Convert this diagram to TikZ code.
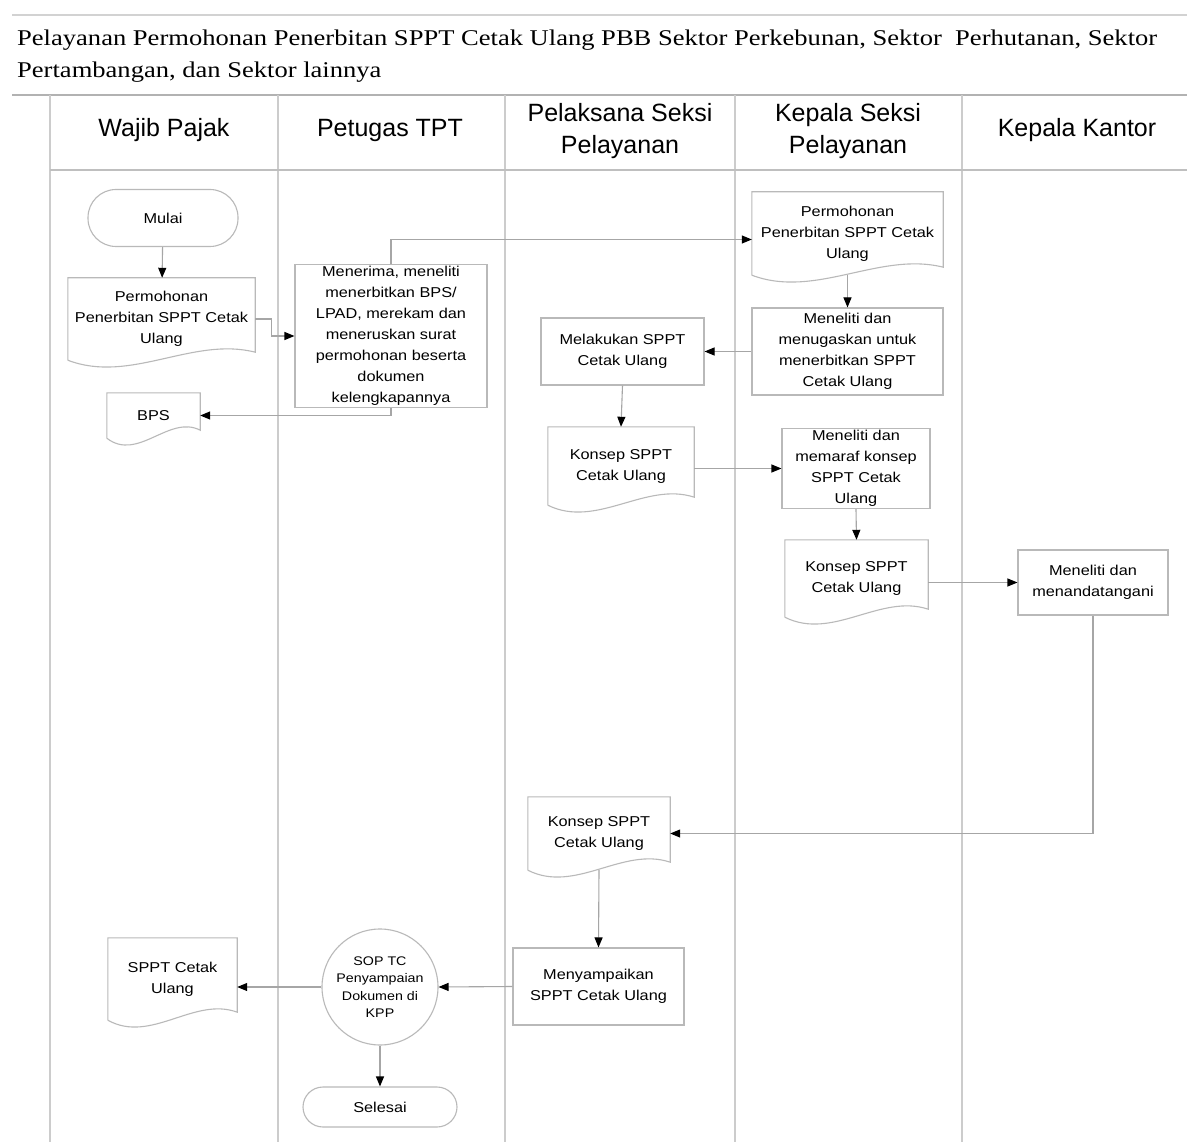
\documentclass[tikz,border=0pt]{standalone}
\usepackage{fontspec}
\setmainfont{Liberation Sans}
\newfontfamily\ttlfont[FakeStretch=1.18]{Liberation Serif}
\newfontfamily\bxfamily[FakeStretch=1.14]{Liberation Sans}
\usetikzlibrary{arrows.meta,calc}
\newcommand\bxfont{\bxfamily\fontsize{14.3}{21}\selectfont}
\newcommand\hdfont{\fontsize{25}{32}\selectfont}
\newcommand\docoutline[1]{%
  \draw[docline] (#1.south west) -- (#1.north west) -- (#1.north east) -- ([yshift=8pt]#1.south east)
    .. controls ($(#1.south east)!0.333!(#1.south west)+(0pt,24pt)$) and ($(#1.south east)!0.667!(#1.south west)+(0pt,-24pt)$) .. (#1.south west);}
\begin{document}
\begin{tikzpicture}[x=1pt,y=-1pt,
  lane/.style={draw=gray!40,line width=1.2pt},
  sepline/.style={draw=gray!60,line width=2pt},
  box/.style={draw=gray!55,line width=1.1pt,rectangle,align=center,inner sep=2pt,font=\bxfont},
  doc/.style={rectangle,align=center,inner sep=2pt,font=\bxfont},
  docline/.style={draw=gray!55,line width=1.1pt},
  term/.style={draw=gray!55,line width=1.1pt,rectangle,align=center,font=\bxfont},
  conn/.style={draw=gray!55,line width=1.1pt,circle,align=center,inner sep=1pt,font=\bxfamily\fontsize{12.5}{17.5}\selectfont},
  hdr/.style={align=center,font=\hdfont},
  flow/.style={draw=gray!70,line width=1.1pt,-{Triangle[length=10pt,width=8pt,color=black]}}]
\useasboundingbox (0,0) rectangle (1187,1142);
\fill[white] (0,0) rectangle (1187,1142);

% title
\draw[draw=gray!35,line width=1.2pt] (12,15) -- (1187,15);
\node[anchor=north west,align=left,inner sep=0pt,font=\ttlfont\fontsize{22.5}{32}\selectfont] (title) at (17,30)
 {Pelayanan Permohonan Penerbitan SPPT Cetak Ulang PBB Sektor Perkebunan, Sektor\ \ Perhutanan, Sektor\\Pertambangan, dan Sektor lainnya};
\draw[sepline] (12,95) -- (1187,95);

% lanes
\draw[lane] (50,95) -- (50,1142);
\foreach \x in {278,505,735,962} \draw[lane] (\x,95) -- (\x,1142);
\draw[sepline,draw=gray!50] (50,170) -- (1187,170);

\node[hdr] (h1) at (164,130) {Wajib Pajak};
\node[hdr] (h2) at (390,130) {Petugas TPT};
\node[hdr] (h3) at (620,131) {Pelaksana Seksi\\Pelayanan};
\node[hdr] (h4) at (848,131) {Kepala Seksi\\Pelayanan};
\node[hdr] (h5) at (1077,130) {Kepala Kantor};

% nodes
\node[term,minimum width=150pt,minimum height=57pt,rounded corners=28pt] (mulai) at (163,218) {Mulai};
\node[doc,minimum width=187pt,minimum height=82pt] (doc1) at (161.5,319) {Permohonan\\Penerbitan SPPT Cetak\\Ulang};
\node[box,minimum width=192pt,minimum height=142pt] (proc1) at (391,336)
 {Menerima, meneliti\\menerbitkan BPS/\\LPAD, merekam dan\\meneruskan surat\\permohonan beserta\\dokumen\\kelengkapannya};
\node[doc,minimum width=93pt,minimum height=45pt] (bps) at (153.5,415.5) {BPS};
\node[doc,minimum width=191pt,minimum height=83pt] (doc2) at (847.5,233.5) {Permohonan\\Penerbitan SPPT Cetak\\Ulang};
\node[box,minimum width=191pt,minimum height=87pt] (proc2) at (847.5,351.5) {Meneliti dan\\menugaskan untuk\\menerbitkan SPPT\\Cetak Ulang};
\node[box,minimum width=163pt,minimum height=67pt] (proc3) at (622.5,351.5) {Melakukan SPPT\\Cetak Ulang};
\node[doc,minimum width=146pt,minimum height=78pt] (doc3) at (621,466) {Konsep SPPT\\Cetak Ulang};
\node[box,minimum width=148pt,minimum height=79pt] (proc4) at (856,468.5) {Meneliti dan\\memaraf konsep\\SPPT Cetak\\Ulang};
\node[doc,minimum width=143pt,minimum height=77pt] (doc4) at (856.5,578.5) {Konsep SPPT\\Cetak Ulang};
\node[box,minimum width=150pt,minimum height=65pt] (proc5) at (1093,582.5) {Meneliti dan\\menandatangani};
\node[doc,minimum width=142pt,minimum height=73pt] (doc5) at (599,833.5) {Konsep SPPT\\Cetak Ulang};
\node[box,minimum width=171pt,minimum height=77pt] (proc6) at (598.5,986.5) {Menyampaikan\\SPPT Cetak Ulang};
\node[conn,minimum size=116pt] (sop) at (380,987) {SOP TC\\Penyampaian\\Dokumen di\\KPP};
\node[doc,minimum width=129pt,minimum height=82pt] (doc6) at (172.5,979) {SPPT Cetak\\Ulang};
\node[term,minimum width=154pt,minimum height=40pt,rounded corners=20pt] (selesai) at (380,1107) {Selesai};

\docoutline{doc1}
\docoutline{bps}
\docoutline{doc2}
\docoutline{doc3}
\docoutline{doc4}
\docoutline{doc5}
\docoutline{doc6}

% connectors
\draw[flow] (mulai) -- (doc1);
\draw[flow] (doc1.east) -- ++(16,0) |- (proc1.west);
\draw[flow] (proc1.north) |- ([yshift=-6pt]doc2.west);
\draw[flow] (proc1.south) |- (bps.east);
\draw[flow] (doc2.south) -- (proc2.north);
\draw[flow] (proc2.west) -- (proc3.east);
\draw[flow] (proc3.south) -- (doc3.north);
\draw[flow] (doc3.east |- proc4.west) -- (proc4.west);
\draw[flow] (proc4.south) -- (doc4.north);
\draw[flow] (doc4.east |- proc5.west) -- (proc5.west);
\draw[flow] (proc5.south) |- (doc5.east);
\draw[flow] (doc5.south) -- (proc6.north);
\draw[flow] (proc6.west) -- (sop.east);
\draw[flow] (sop.west) -- (doc6.east |- sop.west);
\draw[flow] (sop.south) -- (selesai.north);
\end{tikzpicture}
\end{document}
